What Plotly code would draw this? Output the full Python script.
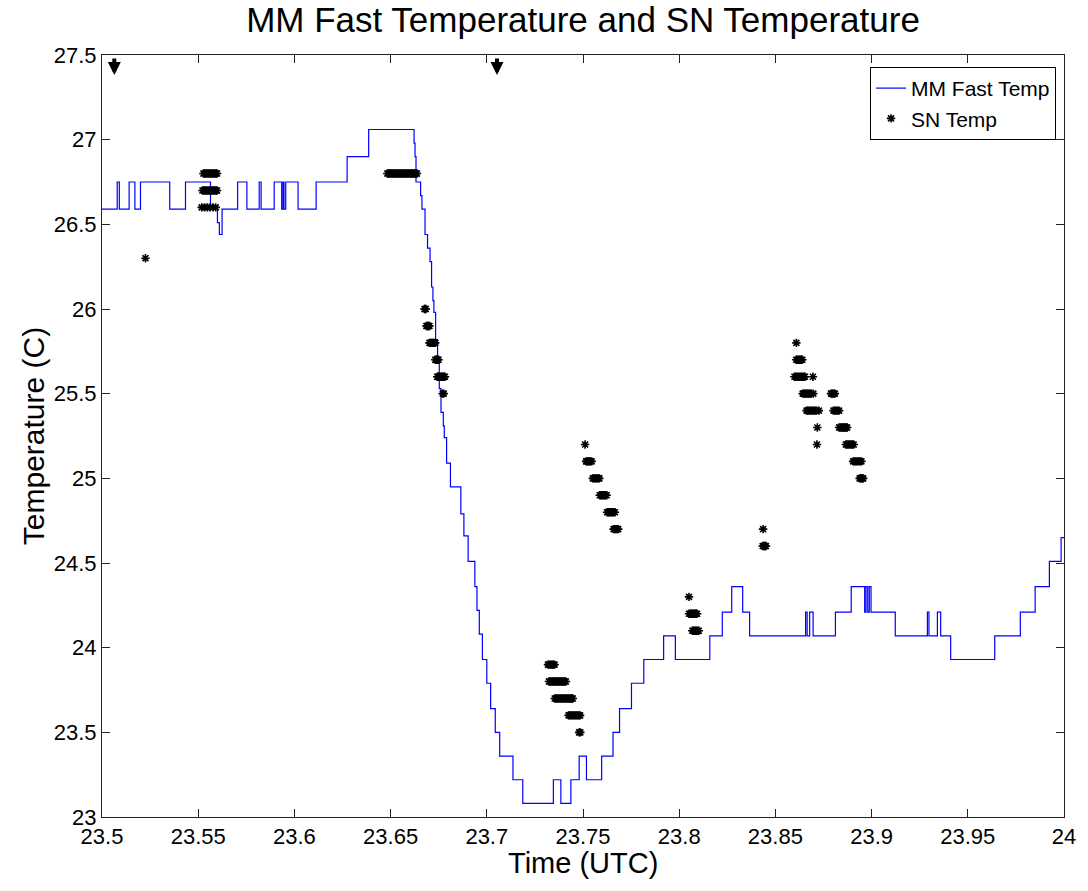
import plotly.graph_objects as go

# ---------------- data ----------------
# MM Fast Temp: step trace (time in decimal hours UTC, temperature in C)
mm_time = [
    23.5000, 23.5079, 23.5090, 23.5141, 23.5171, 23.5200, 23.5352, 23.5434,
    23.5564, 23.5600, 23.5610, 23.5624, 23.5705, 23.5753, 23.5817, 23.5827,
    23.5895, 23.5934, 23.5941, 23.5946, 23.5955, 23.6019, 23.6113, 23.6274,
    23.6386, 23.6622, 23.6627, 23.6632, 23.6656, 23.6663, 23.6679, 23.6692,
    23.6705, 23.6713, 23.6720, 23.6725, 23.6734, 23.6744, 23.6753, 23.6762,
    23.6774, 23.6779, 23.6791, 23.6811, 23.6865, 23.6881, 23.6903, 23.6938,
    23.6949, 23.6961, 23.6977, 23.7000, 23.7020, 23.7044, 23.7067, 23.7136,
    23.7187, 23.7346, 23.7385, 23.7437, 23.7480, 23.7518, 23.7597, 23.7656,
    23.7690, 23.7752, 23.7816, 23.7919, 23.7980, 23.8159, 23.8224, 23.8273,
    23.8330, 23.8366, 23.8657, 23.8665, 23.8678, 23.8696, 23.8812, 23.8894,
    23.8964, 23.8971, 23.8980, 23.8988, 23.8997, 23.9123, 23.9290, 23.9298,
    23.9342, 23.9359, 23.9411, 23.9640, 23.9773, 23.9850, 23.9924, 23.9985,
    24.0000,
]
mm_temp = [
    26.59, 26.75, 26.59, 26.75, 26.59, 26.75, 26.59, 26.75,
    26.59, 26.51, 26.44, 26.59, 26.75, 26.59, 26.75, 26.59,
    26.75, 26.59, 26.75, 26.59, 26.75, 26.59, 26.75, 26.90,
    27.06, 26.98, 26.90, 26.75, 26.67, 26.59, 26.44, 26.36,
    26.28, 26.13, 26.05, 25.98, 25.82, 25.68, 25.53, 25.39,
    25.31, 25.24, 25.09, 24.95, 24.79, 24.66, 24.51, 24.36,
    24.22, 24.08, 23.93, 23.79, 23.64, 23.50, 23.36, 23.22,
    23.08, 23.22, 23.08, 23.22, 23.36, 23.22, 23.36, 23.50,
    23.64, 23.79, 23.93, 24.07, 23.93, 24.07, 24.21, 24.36,
    24.21, 24.07, 24.21, 24.07, 24.21, 24.07, 24.21, 24.36,
    24.21, 24.36, 24.21, 24.36, 24.21, 24.07, 24.21, 24.07,
    24.21, 24.07, 23.93, 24.07, 24.21, 24.36, 24.51, 24.65,
    24.65,
]

# SN Temp: individual samples (many overlap into blobs)
sn_time = [
    23.5226,
    23.5527, 23.5533, 23.5539, 23.5545, 23.5551, 23.5557, 23.5563, 23.5569, 23.5575, 23.5581, 23.5587, 23.5593, 23.5598,
    23.5522, 23.5529, 23.5535, 23.5542, 23.5548, 23.5555, 23.5561, 23.5568, 23.5574, 23.5581, 23.5587, 23.5593, 23.5598,
    23.5518, 23.5533, 23.5548, 23.5562, 23.5577, 23.5591,
    23.6483, 23.6489, 23.6494, 23.6500, 23.6505, 23.6511, 23.6516, 23.6522, 23.6527, 23.6533,
    23.6538, 23.6544, 23.6549, 23.6555, 23.6560, 23.6566, 23.6571, 23.6577, 23.6582, 23.6588,
    23.6593, 23.6599, 23.6604, 23.6610, 23.6615, 23.6621, 23.6626, 23.6632, 23.6637,
    23.6676, 23.6680, 23.6683,
    23.6686, 23.6690, 23.6694, 23.6698, 23.6702,
    23.6702, 23.6707, 23.6712, 23.6717, 23.6722, 23.6727, 23.6732,
    23.6732, 23.6737, 23.6741, 23.6745, 23.6749,
    23.6742, 23.6747, 23.6752, 23.6758, 23.6763, 23.6768, 23.6773, 23.6778, 23.6783,
    23.6771, 23.6776,
    23.7318, 23.7324, 23.7330, 23.7336, 23.7341, 23.7347, 23.7352,
    23.7323, 23.7329, 23.7334, 23.7340, 23.7345, 23.7351, 23.7356, 23.7362, 23.7367,
    23.7373, 23.7378, 23.7384, 23.7389, 23.7395, 23.7400, 23.7406, 23.7411,
    23.7353, 23.7359, 23.7365, 23.7371, 23.7377, 23.7383, 23.7389, 23.7395, 23.7401,
    23.7407, 23.7413, 23.7419, 23.7425, 23.7431, 23.7437, 23.7442, 23.7447,
    23.7425, 23.7431, 23.7437, 23.7443, 23.7449, 23.7455, 23.7461, 23.7467, 23.7473, 23.7479, 23.7485,
    23.7480, 23.7486,
    23.7511,
    23.7516, 23.7522, 23.7527, 23.7533, 23.7538, 23.7545,
    23.7551, 23.7557, 23.7562, 23.7568, 23.7573, 23.7579, 23.7585,
    23.7587, 23.7593, 23.7599, 23.7605, 23.7611, 23.7617, 23.7623,
    23.7625, 23.7631, 23.7636, 23.7642, 23.7647, 23.7653, 23.7658, 23.7666,
    23.7659, 23.7665, 23.7671, 23.7677, 23.7683,
    23.8051,
    23.8051, 23.8057, 23.8062, 23.8068, 23.8073, 23.8078, 23.8083, 23.8088, 23.8093,
    23.8068, 23.8074, 23.8079, 23.8085, 23.8090, 23.8096, 23.8102,
    23.8436,
    23.8434, 23.8439, 23.8443, 23.8447, 23.8451,
    23.8609,
    23.8608, 23.8614, 23.8619, 23.8625, 23.8630, 23.8635, 23.8640,
    23.8599, 23.8606, 23.8613, 23.8620, 23.8627, 23.8634, 23.8641, 23.8648, 23.8654, 23.8695,
    23.8642, 23.8648, 23.8653, 23.8659, 23.8664, 23.8670, 23.8675, 23.8681, 23.8686, 23.8697,
    23.8789, 23.8794, 23.8799, 23.8804, 23.8809,
    23.8662, 23.8668, 23.8675, 23.8681, 23.8688, 23.8694, 23.8701, 23.8707, 23.8714, 23.8726,
    23.8802, 23.8809, 23.8816, 23.8823, 23.8831,
    23.8718,
    23.8831, 23.8837, 23.8842, 23.8848, 23.8853, 23.8858, 23.8863, 23.8868, 23.8873,
    23.8716,
    23.8866, 23.8873, 23.8880, 23.8887, 23.8894, 23.8900, 23.8907,
    23.8904, 23.8911, 23.8918, 23.8925, 23.8932, 23.8940, 23.8947,
    23.8938, 23.8943, 23.8947, 23.8952, 23.8956,
]
sn_temp = (
    [26.3]
    + [26.8] * 13
    + [26.7] * 13
    + [26.6] * 6
    + [26.8] * 29
    + [26.0] * 3
    + [25.9] * 5
    + [25.8] * 7
    + [25.7] * 5
    + [25.6] * 9
    + [25.5] * 2
    + [23.9] * 7
    + [23.8] * 17
    + [23.7] * 17
    + [23.6] * 11
    + [23.5] * 2
    + [25.2] * 1
    + [25.1] * 6
    + [25.0] * 7
    + [24.9] * 7
    + [24.8] * 8
    + [24.7] * 5
    + [24.3] * 1
    + [24.2] * 9
    + [24.1] * 7
    + [24.7] * 1
    + [24.6] * 5
    + [25.8] * 1
    + [25.7] * 7
    + [25.6] * 10
    + [25.5] * 10
    + [25.5] * 5
    + [25.4] * 10
    + [25.4] * 5
    + [25.3] * 1
    + [25.3] * 9
    + [25.2] * 1
    + [25.2] * 7
    + [25.1] * 7
    + [25.0] * 5
)

# event markers (down arrows at top of plot)
arrow_times = [23.5064, 23.7053]

x_ticks = [23.5, 23.55, 23.6, 23.65, 23.7, 23.75, 23.8, 23.85, 23.9, 23.95, 24.0]
x_tick_labels = ["23.5", "23.55", "23.6", "23.65", "23.7", "23.75", "23.8", "23.85", "23.9", "23.95", "24"]
y_ticks = [23, 23.5, 24, 24.5, 25, 25.5, 26, 26.5, 27, 27.5]
y_tick_labels = ["23", "23.5", "24", "24.5", "25", "25.5", "26", "26.5", "27", "27.5"]

# ---------------- figure ----------------
FONT = "Liberation Sans, Arial, Helvetica, sans-serif"

fig = go.Figure()
fig.add_trace(go.Scatter(
    x=mm_time, y=mm_temp, mode="lines", name="MM Fast Temp",
    line=dict(color="#0000FF", width=1.2, shape="hv"),
))
fig.add_trace(go.Scatter(
    x=sn_time, y=sn_temp, mode="markers", name="SN Temp",
    marker=dict(symbol="asterisk-open", size=7, color="black",
                line=dict(color="black", width=1.6)),
))

for t in arrow_times:
    fig.add_annotation(
        x=t, y=27.382, xref="x", yref="y", text="", showarrow=True,
        ax=0, ay=-18, arrowhead=2, arrowsize=0.65, arrowwidth=4,
        arrowcolor="black",
    )

# axis titles as annotations for precise placement
fig.add_annotation(text="Time (UTC)", xref="paper", yref="paper",
                   x=0.5, y=-0.06, xanchor="center", yanchor="middle",
                   showarrow=False, font=dict(family=FONT, size=29, color="black"))
fig.add_annotation(text="Temperature (C)", xref="paper", yref="paper",
                   x=-0.0715, y=0.5, xanchor="center", yanchor="middle",
                   textangle=-90, showarrow=False,
                   font=dict(family=FONT, size=30, color="black"))

axis_common = dict(
    showline=True, linecolor="#222", linewidth=1, mirror="ticks",
    ticks="inside", ticklen=8, tickcolor="#222", tickwidth=1,
    showgrid=False, zeroline=False,
    tickfont=dict(family=FONT, size=22, color="black"),
)
fig.update_xaxes(range=[23.5, 24.0], tickvals=x_ticks, ticktext=x_tick_labels, **axis_common)
fig.update_yaxes(range=[23, 27.5], tickvals=y_ticks, ticktext=y_tick_labels, **axis_common)

fig.update_layout(
    width=1088, height=891,
    margin=dict(l=102, r=19, t=55, b=74),
    paper_bgcolor="white", plot_bgcolor="white",
    title=dict(text="MM Fast Temperature and SN Temperature",
               x=0.5, xref="paper", xanchor="center",
               y=1 - 20 / 891, yref="container", yanchor="middle",
               font=dict(family=FONT, size=35, color="black")),
    legend=dict(x=0.9917, y=0.9843, xanchor="right", yanchor="top",
                bgcolor="white", bordercolor="black", borderwidth=1,
                font=dict(family=FONT, size=21, color="black"),
                entrywidth=165, entrywidthmode="pixels",
                tracegroupgap=0),
    showlegend=True,
)

fig.write_html("out.html")
